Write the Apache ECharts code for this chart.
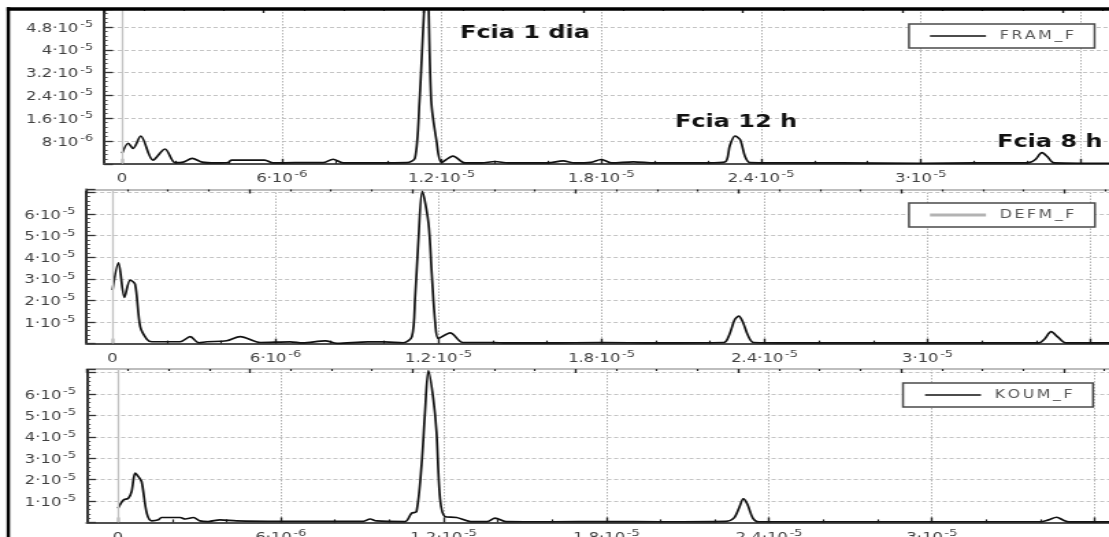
<!DOCTYPE html>
<html><head><meta charset="utf-8">
<script src="https://cdn.jsdelivr.net/npm/echarts@6/dist/echarts.min.js"></script>
<style>
html,body{margin:0;padding:0;background:#fff;overflow:hidden;}
#wrap{width:1109px;height:537px;overflow:hidden;position:relative;background:#fff;}
#c{width:810px;height:537px;transform:scaleX(1.369136);transform-origin:0 0;}
</style></head><body><div id="wrap"><div id="c"></div></div>
<script>
// ---------- data (frequency in units of 1e-6 Hz, amplitude in units of 1e-6) ----------
const seriesNames = ['FRAM_F', 'DEFM_F', 'KOUM_F'];

const xTickValues = [0, 6, 12, 18, 24, 30];
const xTickLabels = ['0', '6·10⁻⁶', '1.2·10⁻⁵', '1.8·10⁻⁵', '2.4·10⁻⁵', '3·10⁻⁵'];
const xMajorTicks = [0, 6, 12, 18, 24, 30, 36];
const xMinorTicks = [2, 4, 8, 10, 14, 16, 20, 22, 26, 28, 32, 34];

const yTicksTop = [8, 16, 24, 32, 40, 48];
const yLabelsTop = ['8·10⁻⁶', '1.6·10⁻⁵', '2.4·10⁻⁵', '3.2·10⁻⁵', '4·10⁻⁵', '4.8·10⁻⁵'];
const yTicksLow = [10, 20, 30, 40, 50, 60];
const yLabelsLow = ['1·10⁻⁵', '2·10⁻⁵', '3·10⁻⁵', '4·10⁻⁵', '5·10⁻⁵', '6·10⁻⁵'];

const annotations = ['Fcia 1 dia', 'Fcia 12 h', 'Fcia 8 h'];

const framFreq = [0, 0.23, 0.41, 0.7, 1.16, 1.61, 1.99, 2.3, 2.63, 3.0, 3.5, 3.98, 4.1, 5.35, 5.67, 6.5, 7.55, 7.92, 8.3, 9.5, 10.7, 11.0, 11.17, 11.45, 11.61, 11.81, 12.0, 12.43, 12.88, 13.5, 14.0, 14.5, 16.0, 16.56, 17.0, 17.6, 18.0, 18.4, 19.2, 20.0, 22.0, 22.64, 22.83, 23.02, 23.21, 23.4, 23.58, 24.5, 27.0, 30.0, 32.0, 33.8, 34.1, 34.3, 34.55, 34.75, 35.0, 36.0, 37.2];
const framValue = [3.7, 7.2, 5.4, 9.75, 1.3, 5.2, 0.4, 0.6, 1.9, 0.6, 0.3, 0.45, 1.3, 1.3, 0.3, 0.4, 0.4, 1.6, 0.3, 0.3, 0.4, 2.0, 22, 68, 22, 8, 0.5, 2.7, 0.3, 0.3, 0.8, 0.3, 0.3, 1.0, 0.3, 0.5, 1.5, 0.3, 0.7, 0.3, 0.3, 0.6, 6.5, 9.75, 8.5, 2.5, 0.4, 0.3, 0.3, 0.2, 0.3, 0.3, 0.5, 1.5, 3.9, 2.5, 0.3, 0.2, 0.2];

const defmFreq = [0, 0.22, 0.44, 0.65, 0.83, 1.02, 1.26, 1.45, 2.49, 2.86, 3.17, 3.47, 4.2, 4.7, 5.44, 6.54, 7.0, 7.83, 8.26, 9.4, 10.0, 10.7, 11.02, 11.14, 11.26, 11.4, 11.63, 11.75, 11.88, 12.0, 12.43, 12.9, 14.0, 14.5, 16.0, 18.0, 20.0, 22.5, 22.7, 22.9, 23.05, 23.2, 23.4, 23.6, 25.0, 28.0, 31.0, 34.1, 34.3, 34.55, 34.8, 35.1, 36.8];
const defmValue = [24.8, 37.4, 21.4, 29.4, 27.5, 7.8, 2.1, 0.85, 0.85, 3.2, 0.4, 0.85, 1.3, 3.2, 0.5, 0.8, 0.3, 1.3, 0.1, 0.8, 0.8, 0.4, 3.2, 21.7, 47.9, 70.5, 55.7, 32.5, 9.3, 2.4, 5.0, 0.5, 0.5, 0.3, 0.3, 0.5, 0.3, 0.5, 4, 11, 12.7, 10, 3.5, 0.5, 0.3, 0.3, 0.3, 0.3, 2, 5.5, 3, 0.3, 0.3];

const koumFreq = [0, 0.2, 0.38, 0.5, 0.63, 0.75, 0.87, 1.06, 1.24, 1.49, 1.6, 2.29, 2.47, 2.78, 3.02, 3.33, 3.76, 4.37, 6.0, 9.04, 9.29, 9.53, 10.58, 10.82, 11.0, 11.19, 11.31, 11.44, 11.62, 11.74, 11.87, 12.05, 12.48, 13.0, 13.6, 13.9, 14.3, 16.0, 18.0, 20.0, 22.4, 22.7, 22.9, 23.05, 23.2, 23.4, 23.6, 25.0, 28.0, 31.0, 34.0, 34.3, 34.6, 34.85, 35.05, 36.6];
const koumValue = [6.6, 10.5, 11.3, 14.4, 23.0, 21.4, 19.0, 4.3, 0.7, 1.2, 2.3, 2.3, 1.6, 2.3, 0.7, 0.4, 1.2, 0.7, 0.5, 0.5, 1.6, 0.7, 0.4, 4.3, 5.0, 26.9, 50.2, 71.0, 58.0, 42.4, 11.3, 2.7, 2.3, 0.4, 0.4, 2.0, 0.4, 0.3, 0.4, 0.3, 0.5, 2, 7, 11, 8.5, 2, 0.3, 0.3, 0.3, 0.3, 0.3, 1.2, 2.4, 1.0, 0.2, 0.2];

const seriesFreq = [framFreq, defmFreq, koumFreq];
const seriesValue = [framValue, defmValue, koumValue];

// ---------- layout (picture pixels; the page is stretched horizontally) ----------
const S = 1109 / 810;
const X = v => v / S;
const FONT = 'DejaVu Sans';
const LABEL_COLOR = '#404040';

// turn "4.8·10⁻⁵" into rich text with a raised, smaller exponent
const SUP = {'⁻': '-', '⁰': '0', '¹': '1', '²': '2', '³': '3', '⁴': '4', '⁵': '5', '⁶': '6', '⁷': '7', '⁸': '8', '⁹': '9'};
function richLabel(s) {
  const k = s.search(/[⁻⁰¹²³⁴⁵⁶⁷⁸⁹]/);
  if (k < 0) return '{b|' + s + '}';
  const exp = s.slice(k).split('').map(c => SUP[c] || c).join('');
  return '{b|' + s.slice(0, k) + '}{s|' + exp + '}';
}
const labelRich = {
  b: {fontSize: 12, fontFamily: FONT, color: LABEL_COLOR, lineHeight: 15, verticalAlign: 'bottom'},
  s: {fontSize: 9.5, fontFamily: FONT, color: LABEL_COLOR, lineHeight: 15, verticalAlign: 'top', padding: [0, 0, 0, 1.2]}
};

const panels = [
  {l: 104,  r: 1112, t: 9,     b: 163.8, xMin: -0.68,  xMax: 37.18, yMax: 54.3, yInt: 8,  yT: yTicksTop, yL: yLabelsTop, topLine: false,
   leg: {x: 909, y: 24, padL: 21, padR: 18}, legLine: {color: '#111', h: 1.5}},
  {l: 86.5, r: 1112, t: 189.5, b: 343.6, xMin: -0.957, xMax: 36.79, yMax: 71.3, yInt: 10, yT: yTicksLow, yL: yLabelsLow, topLine: true,
   leg: {x: 909, y: 203, padL: 21, padR: 18}, legLine: {color: '#b3b3b3', h: 3}},
  {l: 87,   r: 1112, t: 369,   b: 522.4, xMin: -1.143, xMax: 36.64, yMax: 71.7, yInt: 10, yT: yTicksLow, yL: yLabelsLow, topLine: true,
   leg: {x: 903, y: 383, padL: 22, padR: 18}, legLine: {color: '#111', h: 1.5}}
];

const grid = [], xAxis = [], yAxis = [], series = [], legend = [];

panels.forEach((p, i) => {
  grid.push({left: X(p.l), width: X(p.r - p.l), top: p.t, height: p.b - p.t, containLabel: false, outerBoundsMode: 'none'});

  // bottom axis: major ticks, labels, vertical grid
  xAxis.push({
    gridIndex: i, type: 'value', position: 'bottom', min: p.xMin, max: p.xMax,
    axisLine: {show: true, onZero: false, lineStyle: {color: '#505050', width: 2.2}},
    axisTick: {show: true, inside: true, length: 5, customValues: xMajorTicks, lineStyle: {color: '#222', width: 1.4}},
    axisLabel: {show: true, customValues: xTickValues, margin: 6, rich: labelRich,
      formatter: v => { const k = xTickValues.indexOf(v); return k >= 0 ? richLabel(xTickLabels[k]) : ''; }},
    splitLine: {show: true, lineStyle: {color: '#b2b2b2', width: 1, type: [1.5, 1.5]}},
    minorTick: {show: false}, minorSplitLine: {show: false}
  });
  // bottom axis: minor ticks
  xAxis.push({
    gridIndex: i, type: 'value', position: 'bottom', min: p.xMin, max: p.xMax,
    axisLine: {show: false, onZero: false},
    axisTick: {show: true, inside: true, length: 3, customValues: xMinorTicks, lineStyle: {color: '#222', width: 1.2}},
    axisLabel: {show: false}, splitLine: {show: false}
  });
  // top axis
  xAxis.push({
    gridIndex: i, type: 'value', position: 'top', min: p.xMin, max: p.xMax, interval: 6,
    axisLine: {show: p.topLine, onZero: false, lineStyle: {color: '#bdbdbd', width: 2}},
    axisTick: {show: true, inside: true, length: 4, lineStyle: {color: '#222', width: 1.4}},
    minorTick: {show: true, splitNumber: 4, length: 2, lineStyle: {color: '#222', width: 1.2}},
    axisLabel: {show: false}, splitLine: {show: false}
  });

  yAxis.push({
    gridIndex: i, type: 'value', min: 0, max: p.yMax, interval: p.yInt,
    axisLine: {show: true, onZero: false, lineStyle: {color: '#333', width: 2}},
    axisTick: {show: true, inside: true, length: 6.5, lineStyle: {color: '#333', width: 1.3}},
    minorTick: {show: true, splitNumber: 5, length: 2.6, lineStyle: {color: '#444', width: 1}},
    axisLabel: {margin: X(11), rich: labelRich,
      formatter: v => { const k = p.yT.indexOf(v); return k >= 0 ? richLabel(p.yL[k]) : ''; }},
    splitLine: {show: true, lineStyle: {color: '#c4c4c4', width: 1, type: [3, 2]}}
  });

  series.push({
    type: 'line', name: seriesNames[i], xAxisIndex: 3 * i, yAxisIndex: i,
    data: seriesFreq[i].map((f, k) => [f, seriesValue[i][k]]),
    symbol: 'none', showSymbol: false, smooth: 0.3, clip: true,
    lineStyle: {color: '#111', width: 1.7}, itemStyle: {color: '#111'},
    markLine: {silent: true, symbol: 'none', animation: false, label: {show: false},
      lineStyle: {color: '#c2c2c2', type: 'solid', width: 1.3}, data: [{xAxis: 0}]}
  });

  legend.push({
    show: true, selectedMode: false, orient: 'horizontal',
    data: [{name: seriesNames[i], icon: 'rect', itemStyle: {color: p.legLine.color, borderWidth: 0}}],
    left: X(p.leg.x), top: p.leg.y,
    padding: [6, X(p.leg.padR), 6, X(p.leg.padL)],
    itemWidth: X(56), itemHeight: p.legLine.h, itemGap: 0,
    backgroundColor: '#fff', borderColor: '#4a4a4a', borderWidth: 1.5, borderRadius: 0,
    formatter: name => name.split('').map((c, k) => (k === 0 ? '{f|' : '{c|') + c + '}').join(''),
    textStyle: {color: '#555', fontSize: 11.5, fontFamily: FONT,
      rich: {f: {color: '#555', fontSize: 11.5, fontFamily: FONT, lineHeight: 14, padding: [0, 1.9, 0, 5]},
             c: {color: '#555', fontSize: 11.5, fontFamily: FONT, lineHeight: 14, padding: [0, 1.9, 0, 0]}}}
  });
});

const annoPos = [[460, 33], [675, 122], [997, 142]];
const graphic = [
  {type: 'line', z: 100, shape: {x1: X(6.7), y1: 9, x2: 812, y2: 9}, style: {stroke: '#000', lineWidth: 3.3}},
  {type: 'line', z: 100, shape: {x1: X(8.3), y1: 7.3, x2: X(8.3), y2: 540}, style: {stroke: '#000', lineWidth: X(3.4)}}
];
annotations.forEach((t, k) => {
  graphic.push({type: 'text', z: 50, x: X(annoPos[k][0]), y: annoPos[k][1],
    style: {text: t, fill: '#111', fontSize: 17.5, fontWeight: 'bold', fontFamily: FONT, align: 'left', verticalAlign: 'middle'}});
});

const chart = echarts.init(document.getElementById('c'), null, {renderer: 'canvas'});
chart.setOption({
  animation: false,
  backgroundColor: '#fff',
  grid, xAxis, yAxis, series, legend, graphic
});
</script></body></html>
